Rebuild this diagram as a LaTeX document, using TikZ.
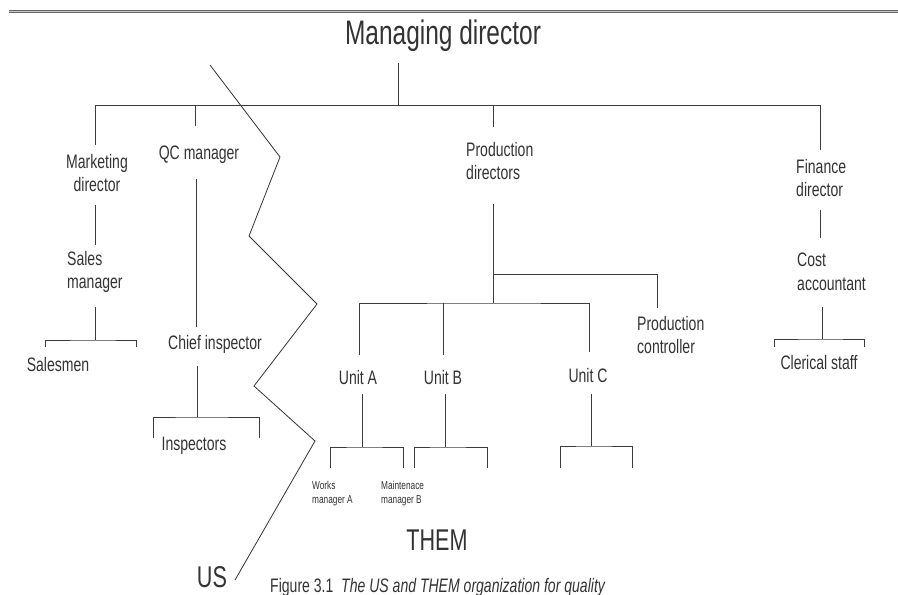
\documentclass[tikz,border=0pt]{standalone}
\usepackage{fontspec}
\setmainfont{Liberation Sans}[FakeStretch=0.72]
\definecolor{ink}{HTML}{333333}
\definecolor{wire}{HTML}{3C3C3C}
\begin{document}
\begin{tikzpicture}[x=1pt,y=-1pt,
  lbl/.style={inner sep=0pt,text=ink,font=\fontsize{19.5}{23.5}\selectfont},
  lblL/.style={lbl,align=left,anchor=west},
  lblC/.style={lbl,align=center},
  tiny/.style={inner sep=0pt,text=ink,align=left,anchor=west,font=\fontsize{11.5}{14}\selectfont},
  big/.style={inner sep=0pt,text=ink,font=\fontsize{30}{34}\selectfont},
  conn/.style={draw=wire,line width=0.9pt},
  zig/.style={draw=black!80,line width=0.8pt}]
\useasboundingbox (0,0) rectangle (898,595);
\fill[white] (0,0) rectangle (898,595);
% top bar
\draw[draw=gray!80!black,line width=3.6pt] (9,11.5) -- (898,11.5);
\draw[draw=gray!45,line width=1pt] (9,11.5) -- (898,11.5);

% texts
\node[big,font=\fontsize{34}{38}\selectfont] (md) at (443,36) {Managing director};
\node[lblC] (mkt) at (97,173) {Marketing\\director};
\node[lbl] (qc) at (199,155) {QC manager};
\node[lblL] (sales) at (67,272) {Sales\\manager};
\node[lbl] (salesmen) at (58,365) {Salesmen};
\node[lbl] (chief) at (215,344) {Chief inspector};
\node[lbl] (insp) at (194,446) {Inspectors};
\node[lblL] (prod) at (466,161) {Production\\directors};
\node[lblL] (pc) at (637,335) {Production\\controller};
\node[lbl] (ua) at (358,378) {Unit A};
\node[lbl] (ub) at (443,378) {Unit B};
\node[lbl] (uc) at (588,376) {Unit C};
\node[tiny] (wm) at (312,494) {Works\\manager A};
\node[tiny] (mm) at (381,494) {Maintenace\\manager B};
\node[lblL] (fin) at (796,178) {Finance\\director};
\node[lblL] (cost) at (797,272) {Cost\\accountant};
\node[lbl] (cler) at (819,363) {Clerical staff};
\node[big] (them) at (437,540) {THEM};
\node[big] (us) at (212,577) {US};
\node[inner sep=0pt,text=ink,anchor=west,font=\fontsize{19.5}{22}\selectfont] (cap) at (270,587) {Figure 3.1\ \ \textit{The US and THEM organization for quality}};

% junction coordinates
\coordinate (mdB) at (398,63);
\coordinate (topL) at (95,105);
\coordinate (topR) at (820,105);
\coordinate (mdJ) at (398,105);
\coordinate (qcJ) at (195,105);
\coordinate (prJ) at (493,105);
\coordinate (mktT) at (95,145);
\coordinate (qcT) at (195,126);
\coordinate (prT) at (493,127);
\coordinate (finT) at (820,150);
\coordinate (mktB) at (95,205);
\coordinate (salesT) at (95,245);
\coordinate (salesB) at (95,307);
\coordinate (smJ) at (95,340);
\coordinate (smL) at (45,347);
\coordinate (smR) at (136,347);
\coordinate (qcB) at (196,179);
\coordinate (chiefT) at (196,327);
\coordinate (chiefB) at (197,366);
\coordinate (inJ) at (197,417);
\coordinate (inL) at (153,438);
\coordinate (inR) at (259,438);
\coordinate (prB) at (493,204);
\coordinate (pcJ) at (493,274);
\coordinate (pcT) at (657,308);
\coordinate (uJ) at (493,303);
\coordinate (uaT) at (359,355);
\coordinate (ubT) at (443,355);
\coordinate (ucT) at (589,352);
\coordinate (ubJ) at (443,303);
\coordinate (uaB) at (362,394);
\coordinate (uaJ) at (362,447);
\coordinate (uaL) at (330,468);
\coordinate (uaR) at (403,468);
\coordinate (ubB) at (445,394);
\coordinate (ubJJ) at (445,447);
\coordinate (ubL) at (414,468);
\coordinate (ubR) at (487,468);
\coordinate (ucB) at (591,394);
\coordinate (ucJ) at (591,446);
\coordinate (ucL) at (560,468);
\coordinate (ucR) at (632,468);
\coordinate (finB) at (820,210);
\coordinate (costT) at (820,238);
\coordinate (costB) at (822,307);
\coordinate (clJ) at (822,339);
\coordinate (clL) at (774,347);
\coordinate (clR) at (864,347);

% connectors
\draw[conn] (mdB) -- (mdJ);
\draw[conn] (topL) -- (topR);
\draw[conn] (topL) -- (mktT);
\draw[conn] (qcJ) -- (qcT);
\draw[conn] (prJ) -- (prT);
\draw[conn] (topR) -- (finT);
\draw[conn] (mktB) -- (salesT);
\draw[conn] (salesB) -- (smJ);
\draw[conn] (smL) |- (smJ) -| (smR);
\draw[conn] (qcB) -- (chiefT);
\draw[conn] (chiefB) -- (inJ);
\draw[conn] (inL) |- (inJ) -| (inR);
\draw[conn] (prB) -- (uJ);
\draw[conn] (pcJ) -| (pcT);
\draw[conn] (uaT) |- (uJ) -| (ucT);
\draw[conn] (ubJ) -- (ubT);
\draw[conn] (uaB) -- (uaJ);
\draw[conn] (uaL) |- (uaJ) -| (uaR);
\draw[conn] (ubB) -- (ubJJ);
\draw[conn] (ubL) |- (ubJJ) -| (ubR);
\draw[conn] (ucB) -- (ucJ);
\draw[conn] (ucL) |- (ucJ) -| (ucR);
\draw[conn] (finB) -- (costT);
\draw[conn] (costB) -- (clJ);
\draw[conn] (clL) |- (clJ) -| (clR);

% US / THEM dividing line
\coordinate (z0) at (210,65);
\coordinate (z1) at (280,157);
\coordinate (z2) at (249,236);
\coordinate (z3) at (317,304);
\coordinate (z4) at (254,386);
\coordinate (z5) at (315,441);
\coordinate (z6) at (235,580);
\draw[zig] (z0) -- (z1) -- (z2) -- (z3) -- (z4) -- (z5) -- (z6);
\end{tikzpicture}
\end{document}
